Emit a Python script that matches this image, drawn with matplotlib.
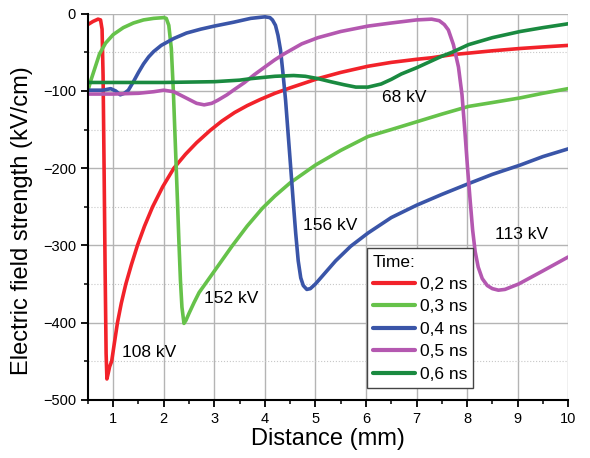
import matplotlib.pyplot as plt
from matplotlib.ticker import MultipleLocator

plt.rcParams['font.family'] = ['Liberation Sans', 'DejaVu Sans']

# 0,2 ns
x_02 = [0.5, 0.6, 0.7, 0.75, 0.78, 0.8, 0.82, 0.84, 0.86, 0.876, 0.9, 0.93, 0.97,
        1.02, 1.085, 1.16, 1.25, 1.36, 1.48, 1.62, 1.78, 1.98, 2.2, 2.43, 2.65, 2.92,
        3.15, 3.4, 3.65, 3.91, 4.2, 4.5, 5.05, 5.5, 6.04, 6.5, 7.0, 7.3, 7.7, 8.03,
        8.5, 9.05, 9.5, 10.0]
y_02 = [-14, -10, -7, -8, -20, -80, -200, -330, -440, -473, -466, -457, -450,
        -428, -400, -375, -350, -325, -300, -275, -250, -224, -200, -182, -167, -151,
        -139, -128, -119, -111, -103, -96, -84, -76, -68, -63, -59, -57, -53, -51,
        -48, -45, -43, -41]

# 0,3 ns
x_03 = [0.5, 0.55, 0.65, 0.73, 0.85, 1.0, 1.2, 1.4, 1.6, 1.8, 2.0, 2.05, 2.1,
        2.15, 2.19, 2.23, 2.27, 2.3, 2.33, 2.36, 2.4, 2.44, 2.5, 2.6, 2.7, 2.82,
        3.08, 3.35, 3.65, 3.95, 4.2, 4.5, 5.0, 5.5, 6.04, 6.5, 7.0, 7.3, 7.5, 8.03,
        8.5, 9.05, 9.5, 10.0]
y_03 = [-100, -88, -68, -52, -38, -27, -18, -12, -8, -6, -5, -6, -15,
        -45, -100, -170, -240, -295, -345, -380, -401, -397, -388, -374, -361, -350,
        -326, -301, -275, -252, -236, -219, -196, -177, -159, -150, -140, -134, -130, -120,
        -115, -109, -103, -97]

# 0,4 ns
x_04 = [0.5, 0.8, 0.95, 1.05, 1.14, 1.22, 1.3, 1.4, 1.5, 1.6, 1.7, 1.8, 1.95,
        2.2, 2.45, 2.73, 3.0, 3.38, 3.72, 4.0, 4.1, 4.15, 4.21, 4.26, 4.31, 4.36,
        4.41, 4.46, 4.51, 4.56, 4.61, 4.66, 4.71, 4.76, 4.83, 4.9, 5.0, 5.2, 5.4,
        5.7, 6.04, 6.5, 7.0, 7.5, 8.03, 8.5, 9.05, 9.5, 10.0]
y_04 = [-99, -99, -97, -100, -105, -103, -99, -88, -76, -65, -56, -49, -41,
        -32, -25, -20, -16, -11, -6, -4, -5, -8, -15, -28, -47, -78,
        -112, -155, -198, -242, -284, -320, -342, -352, -357, -356, -350, -335, -320,
        -301, -284, -264, -248, -234, -220, -208, -196, -185, -175]

# 0,5 ns
x_05 = [0.5, 1.0, 1.5, 1.8, 2.0, 2.2, 2.47, 2.65, 2.8, 2.95, 3.07, 3.25, 3.4,
        3.6, 3.79, 4.0, 4.19, 4.38, 4.73, 5.05, 5.5, 6.04, 6.5, 7.0, 7.3, 7.45,
        7.55, 7.63, 7.73, 7.83, 7.9, 7.96, 8.01, 8.06, 8.11, 8.16, 8.22, 8.3, 8.4,
        8.5, 8.62, 8.75, 9.02, 9.5, 10.0]
y_05 = [-104, -104, -103, -101, -99, -101, -110, -116, -118, -116, -112, -105, -98,
        -89, -79, -69, -60, -52, -39, -31, -23, -16, -12, -8, -7, -9,
        -14, -21, -40, -69, -105, -155, -200, -241, -280, -308, -328, -343, -352,
        -356, -358, -357, -350, -333, -315]

# 0,6 ns
x_06 = [0.5, 1.0, 2.0, 3.0, 3.5, 3.73, 4.2, 4.57, 4.8, 5.05, 5.3, 5.57, 5.8,
        6.04, 6.3, 6.5, 6.7, 7.0, 7.3, 7.5, 7.7, 8.03, 8.5, 9.05, 9.5, 10.0]
y_06 = [-89, -89, -89, -88, -86, -84, -81, -80, -81, -84, -88, -92, -95,
        -95, -91, -85, -78, -70, -61, -55, -50, -40, -31, -23, -18, -13]

series = [(x_02, y_02, '0,2 ns', '#f2222a'),
          (x_03, y_03, '0,3 ns', '#66c24a'),
          (x_04, y_04, '0,4 ns', '#3a55a8'),
          (x_05, y_05, '0,5 ns', '#b458b0'),
          (x_06, y_06, '0,6 ns', '#1a8a40')]

peak_labels = ['108 kV', '152 kV', '156 kV', '113 kV', '68 kV']
peak_x = [1.17, 2.79, 4.75, 8.55, 6.31]
peak_y = [-439, -369, -274, -286, -109]

fig = plt.figure(figsize=(5.9, 4.58), dpi=100)
ax = fig.add_axes([0.149, 0.127, 0.814, 0.843])

for xs, ys, lab, col in series:
    ax.plot(xs, ys, color=col, lw=2.6, label=lab,
            solid_capstyle='round', solid_joinstyle='round')

for t, px, py in zip(peak_labels, peak_x, peak_y):
    ax.text(px, py, t, fontsize=12.5, ha='left', va='center')

ax.set_xlim(0.5, 10)
ax.set_ylim(-500, 0)
ax.xaxis.set_major_locator(MultipleLocator(1))
ax.xaxis.set_minor_locator(MultipleLocator(0.5))
ax.yaxis.set_major_locator(MultipleLocator(100))
ax.yaxis.set_minor_locator(MultipleLocator(50))

ax.grid(which='major', color='#b4b4b4', lw=1.0)
ax.grid(which='minor', axis='y', color='#c8c8c8', lw=0.8, ls=':')
ax.set_axisbelow(True)

ax.spines['top'].set_visible(False)
ax.spines['right'].set_visible(False)
ax.spines['left'].set_linewidth(1.5)
ax.spines['bottom'].set_linewidth(1.5)
ax.tick_params(which='major', direction='out', length=5, width=1.3, labelsize=10.5)
ax.tick_params(which='minor', direction='out', length=3, width=1.1)

ax.set_xlabel('Distance (mm)', fontsize=17, labelpad=2)
ax.set_ylabel('Electric field strength (kV/cm)', fontsize=17)
ax.yaxis.set_label_coords(-0.115, 0.465)

leg = ax.legend(title='Time:', loc='lower left', bbox_to_anchor=(0.581, 0.031),
                fontsize=12.5, title_fontsize=12.5, fancybox=False, framealpha=1,
                edgecolor='#444444', handlelength=2.4, handletextpad=0.3,
                labelspacing=0.42, borderpad=0.35, borderaxespad=0)
leg._legend_box.align = 'left'
leg.get_frame().set_linewidth(1.0)
for ln in leg.get_lines():
    ln.set_linewidth(3)

fig.savefig('out.png', dpi=100)
